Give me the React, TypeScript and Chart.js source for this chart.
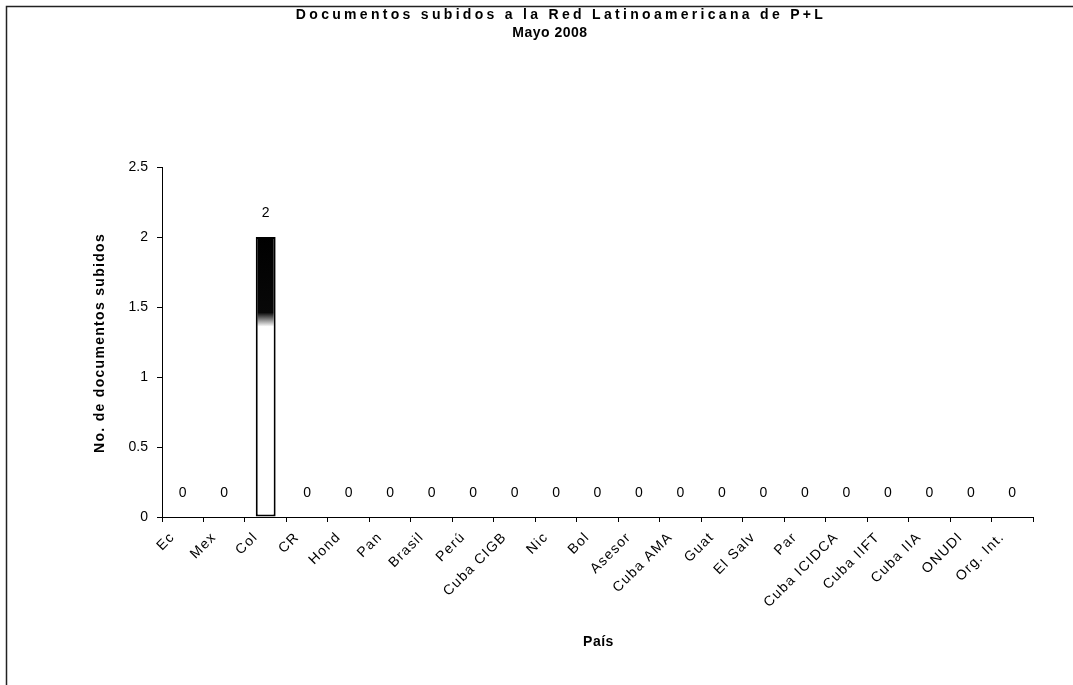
import React, { useEffect, useRef } from "react";
import { Chart, registerables } from "chart.js";

Chart.register(...registerables);

const titleLines: string[] = ["Documentos subidos a la Red Latinoamericana de P+L", "Mayo 2008"];
const categories: string[] = [
  "Ec", "Mex", "Col", "CR", "Hond", "Pan", "Brasil", "Perú", "Cuba CIGB", "Nic", "Bol",
  "Asesor", "Cuba AMA", "Guat", "El Salv", "Par", "Cuba ICIDCA", "Cuba IIFT", "Cuba IIA", "ONUDI", "Org. Int.",
];
const documentos: number[] = [0, 0, 2, 0, 0, 0, 0, 0, 0, 0, 0, 0, 0, 0, 0, 0, 0, 0, 0, 0, 0];
const yTitle = "No. de documentos subidos";
const xTitle = "País";
const yMin = 0;
const yMax = 2.5;
const yStep = 0.5;

const FONT = "'Liberation Sans', Arial, sans-serif";

const decorPlugin = {
  id: "decor",
  afterLayout(chart: any) {
    const s: any = chart.scales.x;
    if (s && !s._spaced) {
      const orig = s.drawLabels;
      s.drawLabels = function (area: any) {
        const c = this.ctx;
        c.save();
        c.translate(-10, 4);
        c.letterSpacing = "1.3px";
        orig.call(this, area);
        c.restore();
      };
      s._spaced = true;
    }
  },
  afterDraw(chart: any) {
    const ctx = chart.ctx;
    const area = chart.chartArea;
    ctx.save();
    // frame
    ctx.strokeStyle = "#222";
    ctx.lineWidth = 1.5;
    ctx.beginPath();
    ctx.moveTo(6.5, chart.height);
    ctx.lineTo(6.5, 6.5);
    ctx.lineTo(chart.width, 6.5);
    ctx.stroke();

    ctx.fillStyle = "#000";
    ctx.textAlign = "center";
    ctx.textBaseline = "middle";
    // title
    ctx.font = `bold 14px ${FONT}`;
    ctx.letterSpacing = "3.3px";
    ctx.fillText(titleLines[0], 561, 15);
    ctx.letterSpacing = "0.5px";
    ctx.fillText(titleLines[1], 550, 33);

    // value labels
    ctx.font = `14px ${FONT}`;
    ctx.letterSpacing = "0px";
    const meta = chart.getDatasetMeta(0);
    meta.data.forEach((el: any, i: number) => {
      ctx.fillText(String(documentos[i]), el.x, el.y - 24);
    });

    // x title
    ctx.font = `bold 14px ${FONT}`;
    ctx.letterSpacing = "0.5px";
    ctx.fillText(xTitle, (area.left + area.right) / 2 + 1, 642);

    // y title
    ctx.save();
    ctx.translate(100, (area.top + area.bottom) / 2 + 1);
    ctx.rotate(-Math.PI / 2);
    ctx.letterSpacing = "1.3px";
    ctx.fillText(yTitle, 0, 0);
    ctx.restore();
    ctx.restore();
  },
};

export default function App() {
  const ref = useRef<HTMLCanvasElement | null>(null);
  useEffect(() => {
    if (!ref.current) return;
    const chart = new Chart(ref.current, {
      type: "bar",
      data: {
        labels: categories,
        datasets: [
          {
            data: documentos,
            backgroundColor: (c: any) => {
              const ch = c.chart;
              if (!ch.chartArea) return "#fff";
              const v = documentos[c.dataIndex] || 0;
              const top = ch.scales.y.getPixelForValue(v);
              const bot = ch.scales.y.getPixelForValue(0);
              if (bot - top < 2) return "#fff";
              const g = ch.ctx.createLinearGradient(0, top, 0, bot);
              g.addColorStop(0, "#000");
              g.addColorStop(0.27, "#080808");
              g.addColorStop(0.32, "#fff");
              g.addColorStop(1, "#fff");
              return g;
            },
            borderColor: "#000",
            borderWidth: (c: any) => ((documentos[c.dataIndex] || 0) > 0 ? 2 : 0),
            borderSkipped: false,
            barPercentage: 0.48,
            categoryPercentage: 1,
          },
        ],
      },
      options: {
        responsive: false,
        animation: false,
        devicePixelRatio: 1,
        layout: { padding: { top: 167, right: 40, bottom: 0, left: 0 } },
        plugins: { legend: { display: false }, tooltip: { enabled: false }, title: { display: false } },
        scales: {
          x: {
            grid: { display: true, drawOnChartArea: false, drawTicks: true, tickLength: 5, color: "#000", offset: true },
            border: { display: true, color: "#000", width: 1 },
            ticks: {
              color: "#000",
              font: { family: FONT, size: 14 },
              minRotation: 45,
              maxRotation: 45,
              autoSkip: false,
              padding: 3,
            },
            afterFit: (axis: any) => {
              axis.height = 168;
            },
          },
          y: {
            min: yMin,
            max: yMax,
            grid: { display: true, drawOnChartArea: false, drawTicks: true, tickLength: 5, color: "#000" },
            border: { display: true, color: "#000", width: 1 },
            ticks: {
              stepSize: yStep,
              color: "#000",
              font: { family: FONT, size: 14 },
              padding: 9,
              callback: (v: any) => String(Number(v)),
            },
            afterFit: (axis: any) => {
              axis.width = 162;
            },
          },
        },
      },
      plugins: [decorPlugin],
    });
    return () => chart.destroy();
  }, []);
  return (
    <div style={{ position: "absolute", left: 0, top: 0, width: 1073, height: 685, background: "#fff" }}>
      <canvas ref={ref} width={1073} height={685} style={{ display: "block" }} />
    </div>
  );
}
